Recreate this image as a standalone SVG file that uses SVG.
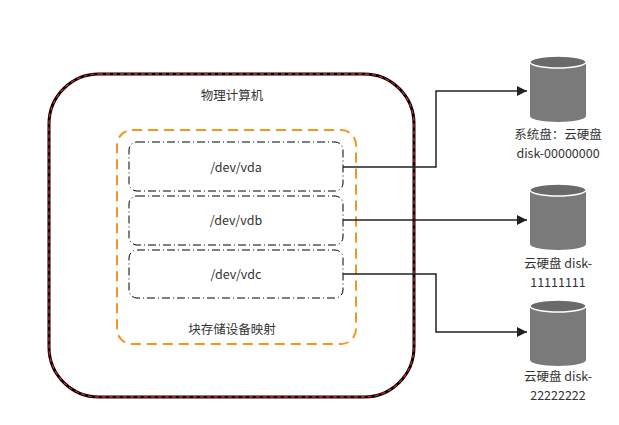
<svg xmlns="http://www.w3.org/2000/svg" width="619" height="425" viewBox="0 0 619 425">
<style>
text{font-family:"Noto Sans CJK SC","Liberation Sans",sans-serif;font-size:12.5px;fill:#333;text-anchor:middle}
.dev{fill:#fff;stroke:#000;stroke-width:1;stroke-dasharray:8 3 1 3}
.cyl{fill:#7a7a7a}
.top{fill:#6a6a6a;stroke:#fff;stroke-width:1.5}
.c{fill:none;stroke:#222;stroke-width:1.5}
</style>
<defs><marker id="a" viewBox="0 0 10 10" refX="10" refY="5" markerWidth="12" markerHeight="10" markerUnits="userSpaceOnUse" orient="auto"><path d="M0,0L10,5L0,10z" fill="#222"/></marker></defs>
<rect width="619" height="425" fill="#fff"/>
<g id="host">
<rect x="49" y="74" width="365" height="323" rx="50" fill="#fff" stroke="#000" stroke-width="3"/>
<rect x="49" y="74" width="365" height="323" rx="50" fill="none" stroke="#e02020" stroke-width="1.3" stroke-dasharray="4 3"/>
<text x="232" y="100">物理计算机</text>
</g>
<g id="map">
<rect x="117" y="130" width="239" height="214" rx="15" fill="none" stroke="#f7931e" stroke-width="2" stroke-dasharray="10 6"/>
<text x="232" y="334">块存储设备映射</text>
</g>
<g id="vda"><rect class="dev" x="129" y="142" width="214" height="49" rx="8"/><text x="236" y="172">/dev/vda</text></g>
<g id="vdb"><rect class="dev" x="129" y="196" width="214" height="49" rx="8"/><text x="236" y="225">/dev/vdb</text></g>
<g id="vdc"><rect class="dev" x="129" y="250" width="214" height="48" rx="8"/><text x="236" y="279">/dev/vdc</text></g>
<g id="connectors">
<path class="c" d="M343,167H436V91H527" marker-end="url(#a)"/>
<path class="c" d="M343,220H527" marker-end="url(#a)"/>
<path class="c" d="M343,274H436V332H527" marker-end="url(#a)"/>
</g>
<g id="disk0">
<path class="cyl" d="M530,62V116A28,6 0 0 0 586,116V62z"/><ellipse class="top" cx="558" cy="62" rx="28" ry="6"/>
<text x="558" y="139">系统盘：云硬盘</text><text x="558" y="158">disk-00000000</text>
</g>
<g id="disk1">
<path class="cyl" d="M530,190V244A28,6 0 0 0 586,244V190z"/><ellipse class="top" cx="558" cy="190" rx="28" ry="6"/>
<text x="558" y="268">云硬盘 disk-</text><text x="558" y="287">11111111</text>
</g>
<g id="disk2">
<path class="cyl" d="M530,306V360A28,6 0 0 0 586,360V306z"/><ellipse class="top" cx="558" cy="306" rx="28" ry="6"/>
<text x="558" y="381">云硬盘 disk-</text><text x="558" y="400">22222222</text>
</g>
</svg>
